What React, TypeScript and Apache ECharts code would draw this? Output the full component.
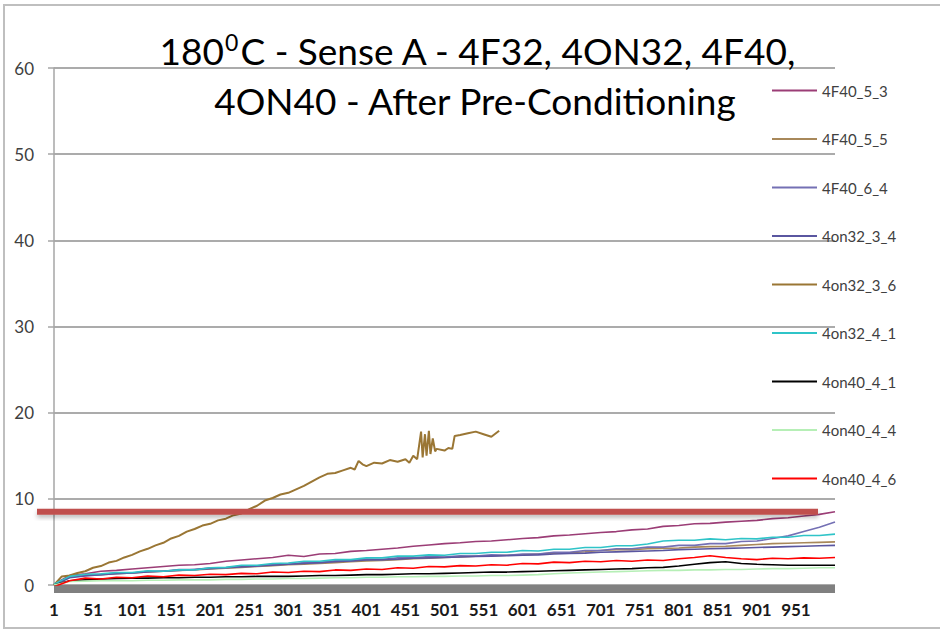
import { useEffect, useRef } from 'react';
import * as echarts from 'echarts';

const FONT = "Lato, 'DejaVu Sans Condensed', sans-serif";

const seriesNames = ['4F40_5_3', '4F40_5_5', '4F40_6_4', '4on32_3_4', '4on32_3_6', '4on32_4_1', '4on40_4_1', '4on40_4_4', '4on40_4_6'];
const seriesColors = ['#9b3d76', '#a8885a', '#7470b4', '#5a56a0', '#9a7634', '#2fc4c8', '#000000', '#b6efb6', '#ff0000'];

const titleLine1 = '180{sup|0}C - Sense A - 4F32, 4ON32, 4F40,';
const titleLine2 = '4ON40 - After Pre-Conditioning';

const yTicks = [0, 10, 20, 30, 40, 50, 60];
const thresholdValue = 8.5;

// sample positions (0-based point index) shared by the lower series
const sampleIdx = [
  0, 20, 40, 60, 80, 100, 120, 140, 160, 180,
  200, 220, 240, 260, 280, 300, 320, 340, 360, 380,
  400, 420, 440, 460, 480, 500, 520, 540, 560, 580,
  600, 620, 640, 660, 680, 700, 720, 740, 760, 780,
  800, 820, 840, 860, 880, 900, 920, 940, 960, 980,
  1000,
];

const v4F40_5_3 = [
  0.1, 1.1, 1.3, 1.6, 1.7, 1.85, 2.0, 2.15, 2.3, 2.35,
  2.5, 2.75, 2.9, 3.05, 3.2, 3.45, 3.3, 3.6, 3.65, 3.9,
  4.0, 4.15, 4.3, 4.5, 4.65, 4.8, 4.9, 5.05, 5.1, 5.25,
  5.4, 5.5, 5.7, 5.8, 5.95, 6.1, 6.2, 6.4, 6.5, 6.8,
  6.9, 7.1, 7.15, 7.3, 7.4, 7.5, 7.7, 7.8, 8.0, 8.2,
  8.5,
];
const v4F40_5_5 = [
  0.0, 0.95, 1.1, 1.2, 1.3, 1.4, 1.5, 1.6, 1.7, 1.75,
  1.85, 1.95, 2.05, 2.15, 2.25, 2.35, 2.4, 2.5, 2.6, 2.7,
  2.8, 2.85, 2.95, 3.05, 3.1, 3.2, 3.25, 3.35, 3.4, 3.45,
  3.5, 3.6, 3.7, 3.75, 3.85, 4.0, 4.1, 4.1, 4.2, 4.25,
  4.3, 4.4, 4.45, 4.5, 4.6, 4.7, 4.8, 4.85, 4.9, 4.95,
  5.0,
];
const v4F40_6_4 = [
  0.0, 0.9, 1.15, 1.2, 1.4, 1.4, 1.6, 1.6, 1.8, 1.8,
  2.0, 2.0, 2.2, 2.2, 2.4, 2.4, 2.6, 2.6, 2.8, 2.8,
  3.0, 2.95, 3.15, 3.15, 3.3, 3.25, 3.4, 3.35, 3.5, 3.45,
  3.6, 3.6, 3.8, 3.8, 4.0, 4.0, 4.2, 4.2, 4.4, 4.4,
  4.6, 4.6, 4.8, 4.8, 5.05, 5.1, 5.4, 5.7, 6.2, 6.7,
  7.3,
];
const v4on32_3_4 = [
  0.0, 0.85, 1.05, 1.2, 1.3, 1.4, 1.5, 1.6, 1.7, 1.8,
  1.9, 2.0, 2.1, 2.2, 2.3, 2.4, 2.5, 2.6, 2.7, 2.8,
  2.9, 2.95, 3.0, 3.1, 3.15, 3.2, 3.25, 3.3, 3.35, 3.4,
  3.45, 3.5, 3.6, 3.65, 3.7, 3.8, 3.85, 3.9, 3.95, 4.0,
  4.1, 4.15, 4.2, 4.25, 4.3, 4.35, 4.4, 4.45, 4.5, 4.55,
  4.6,
];
const v4on32_4_1 = [
  0.1, 1.0, 1.25, 1.3, 1.45, 1.45, 1.65, 1.6, 1.75, 1.75,
  2.0, 2.05, 2.3, 2.3, 2.5, 2.55, 2.75, 2.75, 2.95, 2.95,
  3.15, 3.15, 3.35, 3.35, 3.5, 3.45, 3.65, 3.65, 3.8, 3.8,
  4.0, 3.95, 4.15, 4.15, 4.35, 4.35, 4.55, 4.55, 4.75, 5.1,
  5.2, 5.2, 5.35, 5.25, 5.4, 5.35, 5.55, 5.55, 5.75, 5.75,
  5.9,
];
const v4on40_4_1 = [
  0.0, 0.5, 0.6, 0.7, 0.75, 0.8, 0.8, 0.85, 0.85, 0.9,
  0.9, 0.95, 0.95, 1.0, 1.0, 1.0, 1.05, 1.1, 1.1, 1.15,
  1.2, 1.2, 1.25, 1.3, 1.3, 1.35, 1.4, 1.45, 1.5, 1.5,
  1.55, 1.6, 1.65, 1.7, 1.75, 1.8, 1.85, 1.9, 2.0, 2.05,
  2.2, 2.4, 2.6, 2.7, 2.5, 2.4, 2.35, 2.3, 2.3, 2.3,
  2.3,
];
const v4on40_4_4 = [
  0.0, 0.4, 0.45, 0.5, 0.5, 0.5, 0.55, 0.55, 0.6, 0.6,
  0.6, 0.65, 0.65, 0.7, 0.7, 0.75, 0.75, 0.8, 0.85, 0.85,
  0.9, 0.9, 0.95, 0.95, 1.0, 1.0, 1.05, 1.05, 1.1, 1.1,
  1.15, 1.2, 1.3, 1.4, 1.45, 1.5, 1.55, 1.6, 1.65, 1.7,
  1.7, 1.75, 1.75, 1.8, 1.8, 1.85, 1.9, 1.9, 1.95, 2.0,
  2.0,
];
const v4on40_4_6 = [
  -0.2, 0.5, 0.8, 0.7, 0.9, 0.85, 1.05, 0.95, 1.15, 1.1,
  1.25, 1.2, 1.35, 1.3, 1.5, 1.45, 1.6, 1.55, 1.75, 1.7,
  1.85, 1.8, 2.0, 1.95, 2.15, 2.1, 2.25, 2.2, 2.35, 2.3,
  2.5, 2.45, 2.65, 2.6, 2.75, 2.7, 2.85, 2.75, 2.9, 2.85,
  3.05, 3.2, 3.4, 3.2, 3.05, 2.95, 3.1, 3.05, 3.15, 3.1,
  3.2,
];

// the long series (4on32_3_6) stops around point 570
const bigIdx = [
  0, 10, 20, 30, 40, 50, 60, 70, 80, 90,
  100, 110, 120, 130, 140, 150, 160, 170, 180, 190,
  200, 210, 220, 230, 240, 250, 260, 270, 280, 290,
  300, 310, 320, 330, 340, 350, 360, 370, 380,
  385, 390, 395, 400,
  410, 420, 430, 440, 450,
  455, 460, 465, 470, 472, 475, 477, 480, 482, 485, 488, 490,
  500, 505, 510, 513,
  520, 530, 540, 550, 560, 570,
];
const v4on32_3_6 = [
  0.0, 1.0, 1.1, 1.4, 1.6, 2.0, 2.2, 2.6, 2.8, 3.2,
  3.5, 3.9, 4.2, 4.6, 4.9, 5.4, 5.7, 6.2, 6.5, 6.9,
  7.1, 7.5, 7.7, 8.1, 8.3, 8.8, 9.2, 9.8, 10.1, 10.5,
  10.7, 11.1, 11.5, 12.0, 12.5, 12.9, 13.0, 13.3, 13.6,
  13.4, 14.4, 14.0, 13.8,
  14.2, 14.1, 14.5, 14.3, 14.6,
  14.2, 15.0, 14.6, 17.8, 14.8, 17.5, 15.0, 17.9, 15.2, 17.0, 15.5, 15.8,
  15.6, 15.9, 15.8, 17.3,
  17.4, 17.6, 17.8, 17.5, 17.2, 17.9,
];

const pairs = (xs: number[], ys: number[]) => xs.map((x, k) => [x, ys[k]]);

const seriesData = [
  pairs(sampleIdx, v4F40_5_3),
  pairs(sampleIdx, v4F40_5_5),
  pairs(sampleIdx, v4F40_6_4),
  pairs(sampleIdx, v4on32_3_4),
  pairs(bigIdx, v4on32_3_6),
  pairs(sampleIdx, v4on32_4_1),
  pairs(sampleIdx, v4on40_4_1),
  pairs(sampleIdx, v4on40_4_4),
  pairs(sampleIdx, v4on40_4_6),
];

const titleRich = {
  sup: { fontFamily: FONT, fontSize: 23, fill: '#000000', verticalAlign: 'top', padding: [0, 1, 16, 1] },
};

export default function App() {
  const ref = useRef<HTMLDivElement>(null);
  useEffect(() => {
    if (!ref.current) return;
    const chart = echarts.init(ref.current, null, { renderer: 'svg' });
    chart.setOption({
      animation: false,
      backgroundColor: '#ffffff',
      legend: {
        orient: 'vertical',
        left: 772,
        top: 83,
        padding: 0,
        icon: 'rect',
        itemWidth: 45,
        itemHeight: 2,
        itemGap: 33.5,
        data: seriesNames,
        textStyle: { fontFamily: FONT, fontSize: 15, color: '#404040', padding: [0, 0, 0, 0] },
      },
      grid: { left: 54, right: 105, top: 68, bottom: 45, containLabel: false },
      xAxis: {
        type: 'value',
        min: 0,
        max: 1000,
        interval: 50,
        offset: 4,
        axisLine: { onZero: false, lineStyle: { color: '#808080', width: 8, cap: 'butt' } },
        axisTick: { show: false },
        splitLine: { show: false },
        axisLabel: {
          fontFamily: FONT,
          fontSize: 17,
          fontWeight: 'bold',
          color: '#1a1a1a',
          margin: 12,
          showMaxLabel: false,
          formatter: (v: number) => String(v + 1),
        },
      },
      yAxis: {
        type: 'value',
        min: yTicks[0],
        max: yTicks[yTicks.length - 1],
        interval: 10,
        axisLine: { show: true, lineStyle: { color: '#a6a6a6', width: 1.5 } },
        axisTick: { show: true, length: 6, lineStyle: { color: '#a6a6a6', width: 1.5 } },
        splitLine: { lineStyle: { color: '#8f8f8f', width: 1.5 } },
        axisLabel: { fontFamily: FONT, fontSize: 17, color: '#404040', margin: 20 },
      },
      series: seriesNames.map((name, k) => ({
        name,
        type: 'line',
        data: seriesData[k],
        symbol: 'none',
        color: seriesColors[k],
        lineStyle: { width: k === 4 ? 2 : 1.6, color: seriesColors[k] },
        z: 2,
      })),
    });
    const yPx = chart.convertToPixel({ yAxisIndex: 0 }, thresholdValue) as number;
    chart.setOption({
      graphic: [
        {
          type: 'rect',
          id: 'frame',
          shape: { x: 4, y: 5, width: 950, height: 623 },
          style: { fill: 'none', stroke: '#bfbfbf', lineWidth: 2 },
          silent: true,
        },
        {
          type: 'text',
          id: 'title1',
          x: 478,
          y: 50,
          style: {
            text: titleLine1,
            fontFamily: FONT,
            fontSize: 37,
            fill: '#000000',
            align: 'center',
            verticalAlign: 'middle',
            rich: titleRich,
          },
          z: 20,
        },
        {
          type: 'text',
          id: 'title2',
          x: 475,
          y: 100,
          style: {
            text: titleLine2,
            fontFamily: FONT,
            fontSize: 37,
            fill: '#000000',
            align: 'center',
            verticalAlign: 'middle',
          },
          z: 20,
        },
        {
          type: 'rect',
          id: 'threshold',
          shape: { x: 37, y: yPx - 3, width: 781, height: 6 },
          style: {
            fill: '#c0504d',
            shadowBlur: 4,
            shadowColor: 'rgba(0,0,0,0.25)',
            shadowOffsetY: 3,
          },
          z: 10,
          silent: true,
        },
      ],
    });
    return () => chart.dispose();
  }, []);
  return (
    <div
      ref={ref}
      style={{ position: 'fixed', left: 0, top: 0, width: 940, height: 630, background: '#fff' }}
    />
  );
}
